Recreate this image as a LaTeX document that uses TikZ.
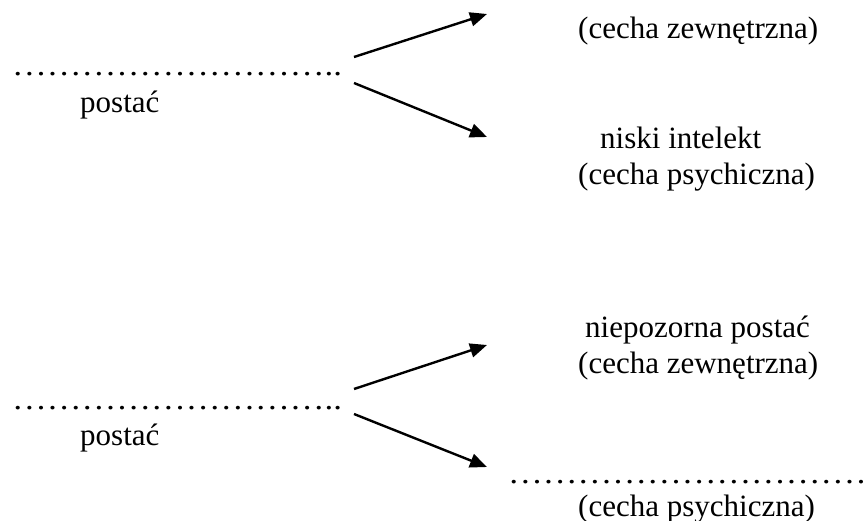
\documentclass[tikz,border=0pt]{standalone}
\usepackage{fontspec}
\setmainfont{Liberation Serif}
\usetikzlibrary{arrows.meta}
\begin{document}
\begin{tikzpicture}[x=1pt,y=-1pt,
  txt/.style={anchor=base west,inner sep=0pt,font=\fontsize{31}{36}\selectfont},
  arr/.style={line width=2.4pt,-{Triangle[length=17pt,width=14pt]}}]
\useasboundingbox (0,0) rectangle (864,521);
% top group
\node[txt] (z1) at (578,39) {(cecha zewnętrzna)};
\node[txt] (d1) at (12,76) {\scalebox{1.12}[1]{………………………..}};
\node[txt] (p1) at (80,113) {postać};
\node[txt] (n1) at (600,149) {niski intelekt};
\node[txt] (c1) at (578,185) {(cecha psychiczna)};
\coordinate (s1a) at (354,57);
\coordinate (e1a) at (487,14);
\coordinate (s1b) at (354,83);
\coordinate (e1b) at (487,137);
\draw[arr] (s1a) -- (e1a);
\draw[arr] (s1b) -- (e1b);
% bottom group
\node[txt] (n2) at (585,337) {niepozorna postać};
\node[txt] (z2) at (578,373) {(cecha zewnętrzna)};
\node[txt] (d2) at (12,409) {\scalebox{1.12}[1]{………………………..}};
\node[txt] (p2) at (80,445) {postać};
\node[txt] (d3) at (508,483) {\scalebox{1.12}[1]{……………………………….}};
\node[txt] (c2) at (578,516) {(cecha psychiczna)};
\coordinate (s2a) at (354,389);
\coordinate (e2a) at (487,345);
\coordinate (s2b) at (354,414);
\coordinate (e2b) at (487,467);
\draw[arr] (s2a) -- (e2a);
\draw[arr] (s2b) -- (e2b);
\end{tikzpicture}
\end{document}
